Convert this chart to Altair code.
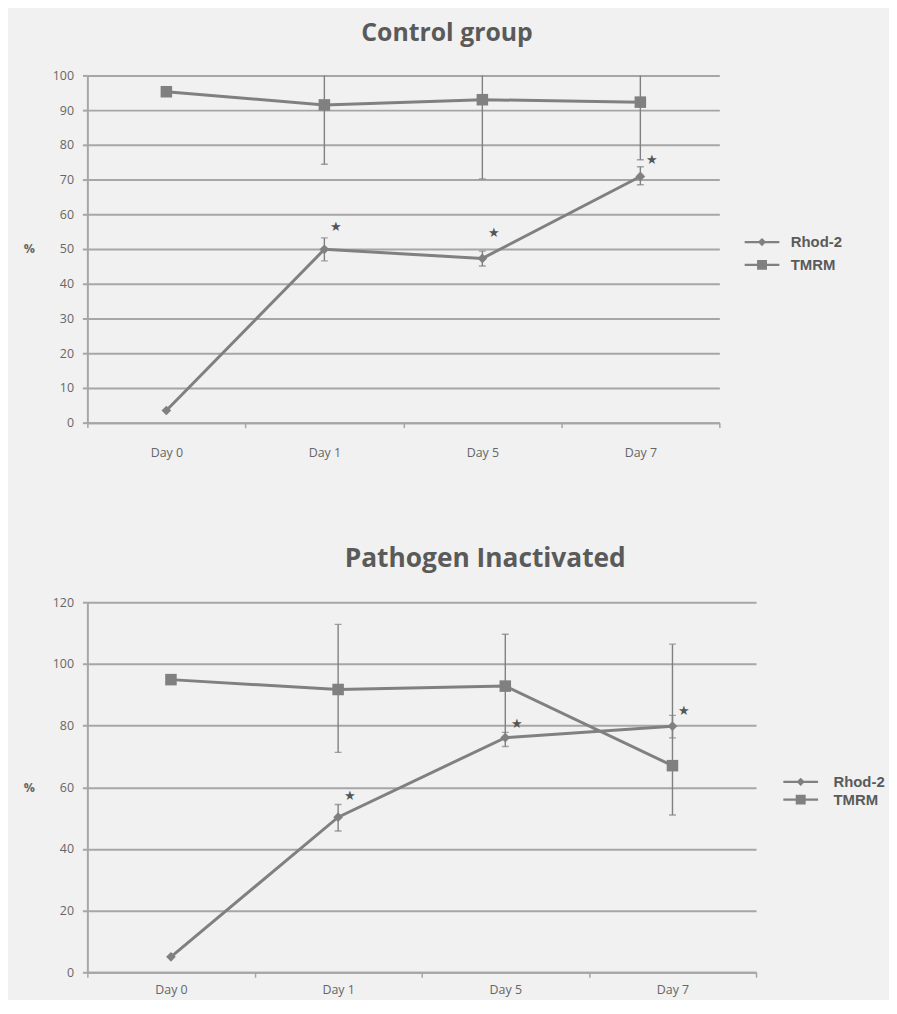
import altair as alt
import pandas as pd

days = ["Day 0", "Day 1", "Day 5", "Day 7"]
series_names = ["Rhod-2", "TMRM"]

# Control group
ctrl_rhod = [3.5, 49.9, 47.3, 70.9]
ctrl_rhod_lo = [3.5, 46.6, 45.1, 68.5]
ctrl_rhod_hi = [3.5, 53.2, 49.4, 73.7]
ctrl_tmrm = [95.3, 91.5, 93.0, 92.3]
ctrl_tmrm_lo = [95.3, 74.4, 70.2, 75.7]
ctrl_tmrm_hi = [95.3, 108.6, 115.8, 108.9]
ctrl_star = [None, 56.3, 54.6, 75.7]
ctrl_ticks = [0, 10, 20, 30, 40, 50, 60, 70, 80, 90, 100]

# Pathogen inactivated
pi_rhod = [5.0, 50.3, 76.1, 79.8]
pi_rhod_lo = [5.0, 45.8, 73.2, 76.0]
pi_rhod_hi = [5.0, 54.4, 77.8, 83.3]
pi_tmrm = [94.9, 91.7, 92.8, 67.0]
pi_tmrm_lo = [94.9, 71.3, 76.0, 51.0]
pi_tmrm_hi = [94.9, 112.8, 109.6, 106.4]
pi_star = [None, 57.1, 80.6, 84.8]
pi_ticks = [0, 20, 40, 60, 80, 100, 120]

BG = "#f0f1f0"
LINE = "#808080"
GRID = "#a6a6a6"
TEXT = "#5a5a5a"

# legend glyphs: short line with the series marker in its middle
LEG_PATHS = [
    "M-1.75,-0.11H1.75V0.11H-1.75Z M0,-0.42L0.42,0L0,0.42L-0.42,0Z",
    "M-1.75,-0.11H1.75V0.11H-1.75Z M-0.5,-0.5H0.5V0.5H-0.5Z",
]


def panel(title, rhod, rhod_lo, rhod_hi, tmrm, tmrm_lo, tmrm_hi, star,
          ymax, ticks, w, h, title_dx, title_size, leg_x, leg_y, leg_off, row_pad,
          xlab_pad):
    rows = []
    for i, d in enumerate(days):
        rows.append({"day": d, "series": "Rhod-2", "value": rhod[i],
                     "lo": rhod_lo[i], "hi": rhod_hi[i]})
        rows.append({"day": d, "series": "TMRM", "value": tmrm[i],
                     "lo": tmrm_lo[i], "hi": tmrm_hi[i]})
    df = pd.DataFrame(rows)
    sdf = pd.DataFrame({"day": days, "star": star}).dropna()

    x = alt.X("day:N", sort=days, bandPosition=0.5,
              scale=alt.Scale(type="band", domain=days, paddingInner=0, paddingOuter=0),
              axis=alt.Axis(title=None, labelAngle=0, tickBand="extent", grid=False,
                            domainColor=GRID, domainWidth=2, tickColor=GRID, tickWidth=1.5,
                            tickSize=5, labelPadding=xlab_pad, labelFontSize=12.5,
                            labelColor="#666666", labelFont="Open Sans", labelBaseline="top"))
    yax = alt.Axis(values=ticks, title="%", titleAngle=0, titleX=-59, titleY=h / 2,
                   titleAlign="center", titleBaseline="middle", titleFontSize=12.5,
                   titleFontWeight="bold", titleColor="#666666", titleFont="Open Sans",
                   grid=True, gridColor=GRID, gridWidth=2, domainColor=GRID, domainWidth=2,
                   tickColor=GRID, tickWidth=2, tickSize=5, labelPadding=9,
                   labelFontSize=12.5, labelColor="#666666", labelFont="Open Sans")
    ysc = alt.Scale(domain=[0, ymax], nice=False)

    base = alt.Chart(df)
    line = base.mark_line(color=LINE, strokeWidth=3).encode(
        x=x, y=alt.Y("value:Q", scale=ysc, axis=yax), detail="series:N")
    err = base.mark_rule(color=LINE, strokeWidth=1.4, clip=True).encode(
        x=x, y=alt.Y("lo:Q", scale=ysc, axis=yax), y2="hi:Q")
    cap_lo = base.mark_tick(color=LINE, orient="horizontal", size=7, thickness=1.4,
                            clip=True).encode(x=x, y=alt.Y("lo:Q", scale=ysc, axis=yax))
    cap_hi = base.mark_tick(color=LINE, orient="horizontal", size=7, thickness=1.4,
                            clip=True).encode(x=x, y=alt.Y("hi:Q", scale=ysc, axis=yax))
    pts = base.mark_point(filled=True, opacity=1, color=LINE).encode(
        x=x, y=alt.Y("value:Q", scale=ysc, axis=yax),
        shape=alt.Shape("series:N",
                        scale=alt.Scale(domain=series_names, range=["diamond", "square"]),
                        legend=None),
        size=alt.Size("series:N", scale=alt.Scale(domain=series_names, range=[95, 135]),
                      legend=None))
    # legend-only layer (no data rows); legend entries come from the scale domain
    leg = base.transform_filter("false").mark_point(
        filled=True, opacity=1, color=LINE
    ).encode(
        x=x, y=alt.Y("value:Q", scale=ysc, axis=yax),
        shape=alt.Shape("series:N",
                        scale=alt.Scale(domain=series_names, range=LEG_PATHS),
                        legend=alt.Legend(title=None, orient="none", legendX=leg_x,
                                          legendY=leg_y, symbolSize=400,
                                          symbolFillColor=LINE, symbolStrokeWidth=0,
                                          labelOffset=leg_off,
                                          labelFontSize=15, labelFont="Liberation Sans",
                                          labelFontWeight="bold", labelColor=TEXT,
                                          rowPadding=row_pad, padding=0)))
    stars = alt.Chart(sdf).mark_text(text="★", dx=12, fontSize=13, color="#555555").encode(
        x=x, y=alt.Y("star:Q", scale=ysc, axis=yax))
    return alt.layer(line, err, cap_lo, cap_hi, pts, leg, stars).resolve_scale(
        shape="independent", size="independent"
    ).properties(
        width=w, height=h,
        title=alt.TitleParams(title, dx=title_dx, fontSize=title_size, font="Open Sans",
                              fontWeight="bold", color=TEXT, anchor="middle", offset=24))


top = panel("Control group", ctrl_rhod, ctrl_rhod_lo, ctrl_rhod_hi, ctrl_tmrm,
            ctrl_tmrm_lo, ctrl_tmrm_hi, ctrl_star, 100, ctrl_ticks, 637, 350,
            44, 25, 670, 158, 19, 5, 19)
bottom = panel("Pathogen Inactivated", pi_rhod, pi_rhod_lo, pi_rhod_hi, pi_tmrm,
               pi_tmrm_lo, pi_tmrm_hi, pi_star, 120, pi_ticks, 674, 373,
               64, 26.5, 709, 171, 23, -1, 6)

chart = alt.vconcat(top, bottom, spacing=87).configure(
    background=BG, padding={"left": 15, "top": 9, "right": 4, "bottom": 0}
).configure_view(stroke=None, fill=BG)

chart.save("out.html", embed_options={"renderer": "svg", "actions": False})
